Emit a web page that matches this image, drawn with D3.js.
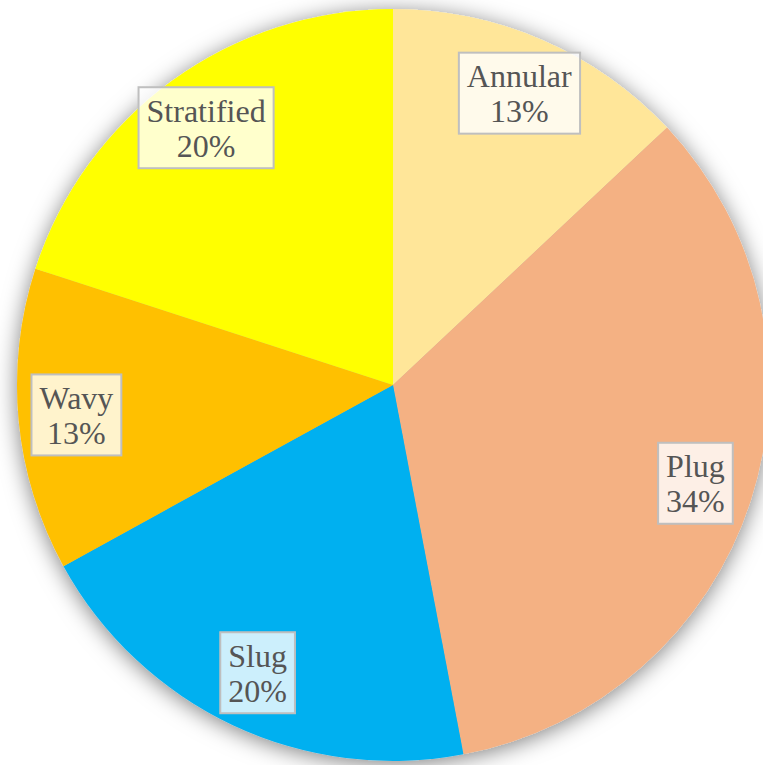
<!DOCTYPE html>
<html>
<head>
<meta charset="utf-8">
<script src="https://cdn.jsdelivr.net/npm/d3@7"></script>
<style>
  html, body { margin: 0; padding: 0; background: #ffffff; }
  svg { display: block; }
</style>
</head>
<body>
<script>
// Flow-pattern shares (percent), clockwise from 12 o'clock
const categories = ["Annular", "Plug", "Slug", "Wavy", "Stratified"];
const shares = [13, 34, 20, 13, 20];
const colors = ["#FFE699", "#F4B183", "#00B0F0", "#FFC000", "#FFFF00"];

const width = 763, height = 765;
const cx = 393, cy = 385, radius = 376, labelRadius = 318;

const svg = d3.select("body").append("svg")
  .attr("width", width).attr("height", height);

const defs = svg.append("defs");
const shadow = defs.append("filter").attr("id", "pieShadow")
  .attr("x", "-10%").attr("y", "-10%").attr("width", "120%").attr("height", "120%");
shadow.append("feDropShadow")
  .attr("dx", 0).attr("dy", 3).attr("stdDeviation", 11)
  .attr("flood-color", "#000").attr("flood-opacity", 0.5);

const data = categories.map((c, i) => ({ name: c, value: shares[i], color: colors[i] }));

const pie = d3.pie().value(d => d.value).sort(null);
const arcs = pie(data);
const arc = d3.arc().innerRadius(0).outerRadius(radius);
const labelArc = d3.arc().innerRadius(labelRadius).outerRadius(labelRadius);

const g = svg.append("g").attr("transform", `translate(${cx},${cy})`);

g.append("g").attr("filter", "url(#pieShadow)")
  .selectAll("path").data(arcs).join("path")
  .attr("d", arc)
  .attr("fill", d => d.data.color);

const labels = g.selectAll("g.label").data(arcs).join("g")
  .attr("class", "label")
  .attr("transform", d => `translate(${labelArc.centroid(d)})`);

labels.append("rect")
  .attr("fill", "#ffffff").attr("fill-opacity", 0.8)
  .attr("stroke", "#BFBFBF").attr("stroke-width", 2);

const text = labels.append("text")
  .attr("text-anchor", "middle")
  .style("font-family", "'Liberation Serif', Tinos, 'Times New Roman', 'DejaVu Serif', serif")
  .attr("font-size", 32)
  .attr("fill", "#555555");
text.append("tspan").attr("x", 0).attr("y", -6).text(d => d.data.name);
text.append("tspan").attr("x", 0).attr("y", 29).text(d => d.data.value + "%");

labels.each(function() {
  const t = d3.select(this).select("text").node().getBBox();
  const padX = 8, h = 81;
  d3.select(this).select("rect")
    .attr("x", t.x - padX).attr("y", -h / 2)
    .attr("width", t.width + 2 * padX).attr("height", h);
});
</script>
</body>
</html>
